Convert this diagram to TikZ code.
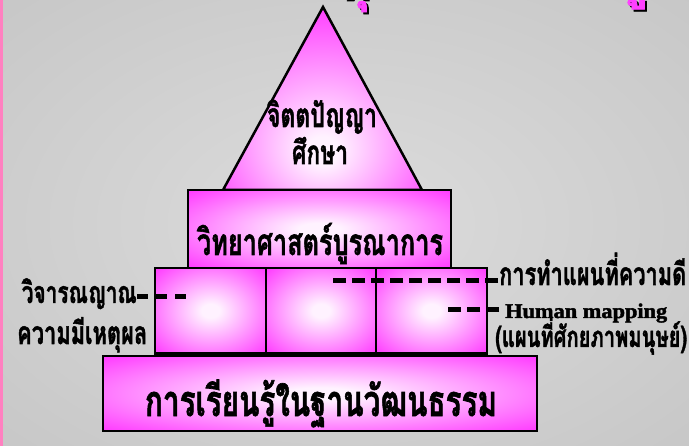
\documentclass[tikz,border=0pt]{standalone}
\usepackage{fontspec}
\usepackage{graphicx}
\setmainfont{Liberation Serif}
\newfontfamily\thai[Script=Thai, BoldFeatures={FakeBold=1.6}]{Loma}
\newfontfamily\heavyserif[BoldFeatures={FakeBold=2}]{Liberation Serif}
\definecolor{pkin}{HTML}{FFF2FF}
\definecolor{pkout}{HTML}{FF00FF}
\definecolor{bgin}{HTML}{DCDCDC}
\definecolor{bgout}{HTML}{B2B2B2}
\definecolor{stripe}{HTML}{FF80C0}
\definecolor{titlepink}{HTML}{FF40FF}
\pgfdeclareradialshading{pinkglow}{\pgfpointorigin}{color(0bp)=(pkin); color(4bp)=(pkin); color(45bp)=(pkout); color(90bp)=(pkout)}
\pgfdeclareradialshading{pinktri}{\pgfpoint{0bp}{-15bp}}{color(0bp)=(pkin); color(4bp)=(pkin); color(45bp)=(pkout); color(90bp)=(pkout)}
\pgfdeclareradialshading{bggrad}{\pgfpointorigin}{color(0bp)=(bgin); color(72bp)=(bgout)}
\newcommand{\fitw}[3]{\resizebox{#1bp}{!}{\scalebox{1}[#2]{#3}}}
\tikzset{
  block/.style={shading=pinkglow, draw=black, line width=2.5bp},
  lbl/.style={inner sep=0pt, font=\thai\bfseries},
  dashline/.style={line width=5bp, dash pattern=on 13bp off 6bp},
  dashshort/.style={line width=5bp, dash pattern=on 11bp off 8bp},
}
\begin{document}
\begin{tikzpicture}[x=1bp,y=-1bp]
\useasboundingbox (0,0) rectangle (689,446);
\shade[shading=bggrad] (0,0) rectangle (689,446);
\fill[stripe] (0,0) rectangle (3,446);
% cut-off title fragments
\begin{scope}
\clip (0,0) rectangle (689,446);
\node[lbl, anchor=base, font=\thai\bfseries\fontsize{50bp}{50bp}\selectfont, text=black] (ts1) at (356,1) {ทุ};
\node[lbl, anchor=base, font=\thai\bfseries\fontsize{50bp}{50bp}\selectfont, text=titlepink] (tt1) at (354,-1) {ทุ};
\node[lbl, anchor=base, font=\thai\bfseries\fontsize{50bp}{50bp}\selectfont, text=black] (ts2) at (634,-1) {ทู};
\node[lbl, anchor=base, font=\thai\bfseries\fontsize{50bp}{50bp}\selectfont, text=titlepink] (tt2) at (632,-3) {ทู};
\end{scope}
% pyramid
\shadedraw[block, shading=pinktri] (323,7) -- (422,190) -- (223,190) -- cycle;
\shadedraw[block] (188,190) rectangle (451,268);
\shadedraw[block] (103,356) rectangle (537,431);
\shadedraw[block] (155,268) rectangle (266,353.5);
\shadedraw[block] (266,268) rectangle (376,353.5);
\shadedraw[block] (376,268) rectangle (487,353.5);
% texts
\node[lbl, anchor=base] (t1) at (322,127) {\fitw{110}{1.45}{จิตตปัญญา}};
\node[lbl, anchor=base] (t2) at (320,164) {\fitw{56}{1.45}{ศึกษา}};
\node[lbl, anchor=base] (t3) at (320,255) {\fitw{246}{1.45}{วิทยาศาสตร์บูรณาการ}};
\node[lbl, anchor=base] (t4) at (321,416) {\fitw{352}{1.45}{การเรียนรู้ในฐานวัฒนธรรม}};
\node[lbl, anchor=base east] (l1) at (137,303) {\fitw{115}{1.45}{วิจารณญาณ}};
\node[lbl, anchor=base west] (l2) at (17,344) {\fitw{130}{1.45}{ความมีเหตุผล}};
\node[lbl, anchor=base west] (r1) at (499,285) {\fitw{187}{1.45}{การทำแผนที่ความดี}};
\node[inner sep=0pt, anchor=base west, font=\heavyserif\bfseries] (hm) at (505,318) {\resizebox{162bp}{14.5bp}{Human mapping}};
\node[lbl, anchor=base west] (r3) at (495,347) {\fitw{192}{1.45}{(แผนที่ศักยภาพมนุษย์)}};
% dashed connectors
\coordinate (dL) at (186,297);
\coordinate (dR1) at (327,281);
\coordinate (dR2) at (447,310);
\draw[dashshort] (dL -| l1.east) -- (dL);
\draw[dashline] ([xshift=-1bp]dR1 -| r1.west) -- (dR1);
\draw[dashline] ([xshift=-6bp]dR2 -| hm.west) -- (dR2);
\end{tikzpicture}
\end{document}
